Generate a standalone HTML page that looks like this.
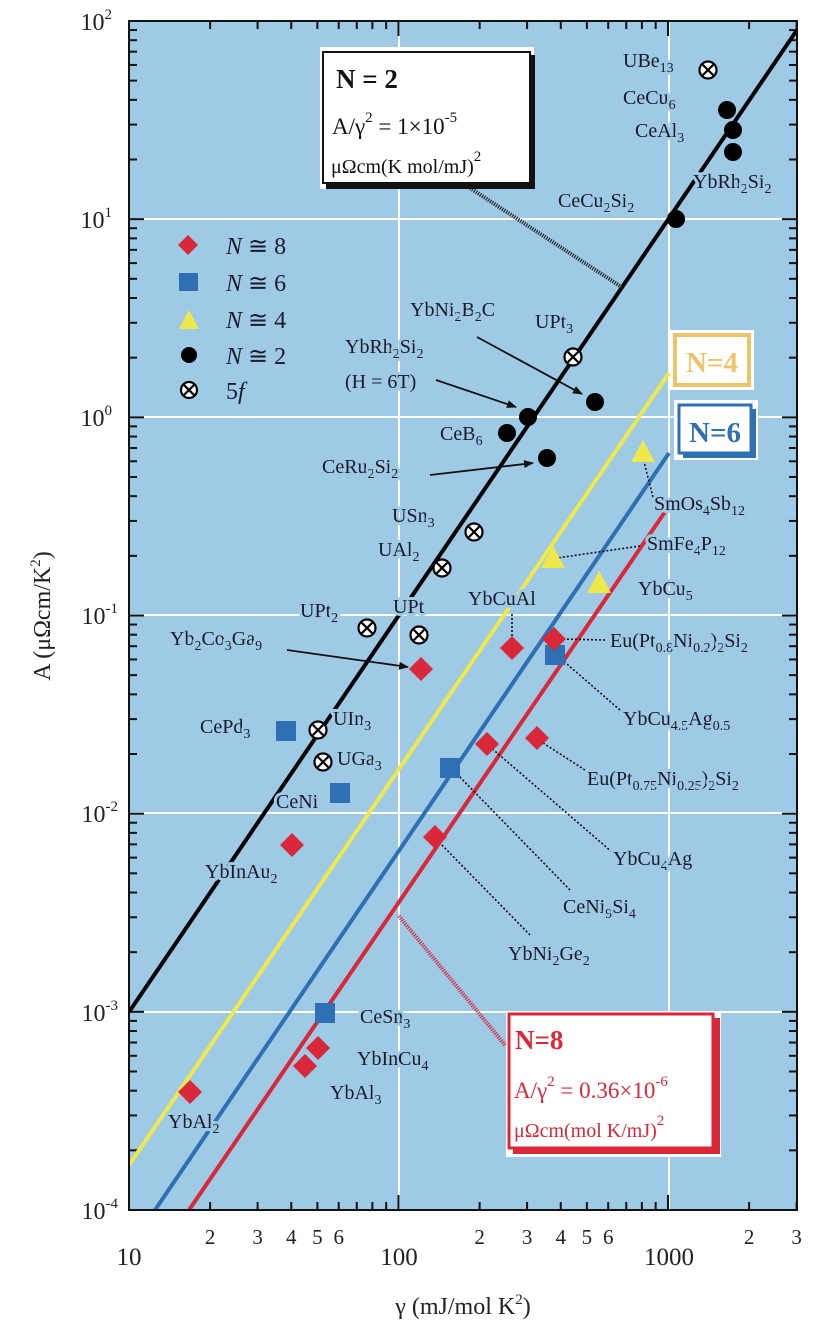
<!DOCTYPE html>
<html><head><meta charset="utf-8"><style>
html,body{margin:0;padding:0;background:#fff;}
svg{display:block;font-family:"Liberation Serif",serif;}
.l{font-size:20px;fill:#1a1a2a;paint-order:stroke;stroke:#9fcae6;stroke-width:6px;stroke-linejoin:round;}
.s{font-size:14px;}
.d{stroke:#111;stroke-width:1.6;stroke-dasharray:2,2;fill:none;}
</style></head><body>
<svg width="836" height="1332" viewBox="0 0 836 1332" xmlns="http://www.w3.org/2000/svg">
<defs>
<marker id="ar" markerWidth="10" markerHeight="8" refX="9" refY="4" orient="auto" markerUnits="userSpaceOnUse"><path d="M0,0 L10,4 L0,8 z" fill="#111"/></marker>
<clipPath id="cp"><rect x="129" y="21" width="668" height="1189"/></clipPath>
</defs>
<rect x="129" y="21" width="668" height="1189" fill="#9fcae6"/>
<g stroke="#fff" stroke-width="2">
<line x1="399" y1="21" x2="399" y2="1210"/><line x1="669" y1="21" x2="669" y2="1210"/>
<line x1="129" y1="219" x2="797" y2="219"/><line x1="129" y1="417" x2="797" y2="417"/>
<line x1="129" y1="615" x2="797" y2="615"/><line x1="129" y1="813" x2="797" y2="813"/>
<line x1="129" y1="1012" x2="797" y2="1012"/>
</g>
<g id="ticks" stroke="#111" stroke-width="2"></g>
<g clip-path="url(#cp)" stroke-width="4" stroke-linecap="butt">
<line x1="129" y1="1165" x2="669" y2="373" stroke="#eee84a"/>
<line x1="155" y1="1210" x2="669" y2="453" stroke="#2f6fb3"/>
<line x1="189" y1="1210" x2="669" y2="506" stroke="#d8283a"/>
<line x1="129" y1="1012" x2="797" y2="30" stroke="#000"/>
</g>
<line x1="470" y1="188" x2="623" y2="288" stroke="#222" stroke-width="4" stroke-dasharray="1.2,1.2"/>
<line x1="505" y1="1045" x2="398" y2="915" stroke="#d8283a" stroke-width="4" stroke-dasharray="1.2,1.2"/>
<path class="d" d="M653,497 L643,458 M640,546 L557,558 M605,640 L560,639 M620,710 L560,658 M585,770 L540,741 M612,852 L489,746 M570,890 L455,772 M530,935 L437,840 M512,614 L512,645"/>
<g stroke="#111" stroke-width="1.8" marker-end="url(#ar)">
<line x1="477" y1="337" x2="582" y2="394"/>
<line x1="436" y1="380" x2="516" y2="407"/>
<line x1="430" y1="475" x2="533" y2="463"/>
<line x1="287" y1="650" x2="408" y2="667"/>
</g>
<g class="l">
<text x="623" y="67">UBe<tspan class="s" dy="5">13</tspan></text>
<text x="623" y="104">CeCu<tspan class="s" dy="5">6</tspan></text>
<text x="635" y="137">CeAl<tspan class="s" dy="5">3</tspan></text>
<text x="693" y="188">YbRh<tspan class="s" dy="5">2</tspan><tspan dy="-5">Si</tspan><tspan class="s" dy="5">2</tspan></text>
<text x="558" y="207">CeCu<tspan class="s" dy="5">2</tspan><tspan dy="-5">Si</tspan><tspan class="s" dy="5">2</tspan></text>
<text x="410" y="316">YbNi<tspan class="s" dy="5">2</tspan><tspan dy="-5">B</tspan><tspan class="s" dy="5">2</tspan><tspan dy="-5">C</tspan></text>
<text x="535" y="328">UPt<tspan class="s" dy="5">3</tspan></text>
<text x="345" y="353">YbRh<tspan class="s" dy="5">2</tspan><tspan dy="-5">Si</tspan><tspan class="s" dy="5">2</tspan></text>
<text x="345" y="388">(H = 6T)</text>
<text x="440" y="440">CeB<tspan class="s" dy="5">6</tspan></text>
<text x="322" y="473">CeRu<tspan class="s" dy="5">2</tspan><tspan dy="-5">Si</tspan><tspan class="s" dy="5">2</tspan></text>
<text x="392" y="522">USn<tspan class="s" dy="5">3</tspan></text>
<text x="378" y="556">UAl<tspan class="s" dy="5">2</tspan></text>
<text x="468" y="605">YbCuAl</text>
<text x="300" y="617">UPt<tspan class="s" dy="5">2</tspan></text>
<text x="393" y="613">UPt</text>
<text x="170" y="645">Yb<tspan class="s" dy="5">2</tspan><tspan dy="-5">Co</tspan><tspan class="s" dy="5">3</tspan><tspan dy="-5">Ga</tspan><tspan class="s" dy="5">9</tspan></text>
<text x="654" y="510">SmOs<tspan class="s" dy="5">4</tspan><tspan dy="-5">Sb</tspan><tspan class="s" dy="5">12</tspan></text>
<text x="647" y="550">SmFe<tspan class="s" dy="5">4</tspan><tspan dy="-5">P</tspan><tspan class="s" dy="5">12</tspan></text>
<text x="638" y="595">YbCu<tspan class="s" dy="5">5</tspan></text>
<text x="610" y="647">Eu(Pt<tspan class="s" dy="5">0.8</tspan><tspan dy="-5">Ni</tspan><tspan class="s" dy="5">0.2</tspan><tspan dy="-5">)</tspan><tspan class="s" dy="5">2</tspan><tspan dy="-5">Si</tspan><tspan class="s" dy="5">2</tspan></text>
<text x="623" y="725">YbCu<tspan class="s" dy="5">4.5</tspan><tspan dy="-5">Ag</tspan><tspan class="s" dy="5">0.5</tspan></text>
<text x="587" y="785">Eu(Pt<tspan class="s" dy="5">0.75</tspan><tspan dy="-5">Ni</tspan><tspan class="s" dy="5">0.25</tspan><tspan dy="-5">)</tspan><tspan class="s" dy="5">2</tspan><tspan dy="-5">Si</tspan><tspan class="s" dy="5">2</tspan></text>
<text x="613" y="865">YbCu<tspan class="s" dy="5">4</tspan><tspan dy="-5">Ag</tspan></text>
<text x="563" y="913">CeNi<tspan class="s" dy="5">9</tspan><tspan dy="-5">Si</tspan><tspan class="s" dy="5">4</tspan></text>
<text x="508" y="960">YbNi<tspan class="s" dy="5">2</tspan><tspan dy="-5">Ge</tspan><tspan class="s" dy="5">2</tspan></text>
<text x="333" y="725">UIn<tspan class="s" dy="5">3</tspan></text>
<text x="200" y="733">CePd<tspan class="s" dy="5">3</tspan></text>
<text x="337" y="765">UGa<tspan class="s" dy="5">3</tspan></text>
<text x="276" y="808">CeNi</text>
<text x="205" y="878">YbInAu<tspan class="s" dy="5">2</tspan></text>
<text x="360" y="1023">CeSn<tspan class="s" dy="5">3</tspan></text>
<text x="357" y="1065">YbInCu<tspan class="s" dy="5">4</tspan></text>
<text x="330" y="1099">YbAl<tspan class="s" dy="5">3</tspan></text>
<text x="168" y="1128">YbAl<tspan class="s" dy="5">2</tspan></text>
</g>
<g fill="#000">
<circle cx="727" cy="110" r="9"/><circle cx="733" cy="130" r="9"/><circle cx="733" cy="152" r="9"/>
<circle cx="676" cy="219" r="9"/><circle cx="595" cy="402" r="9"/><circle cx="528" cy="417" r="9"/>
<circle cx="507" cy="433" r="9"/><circle cx="547" cy="458" r="9"/>
</g>
<g id="ox"></g>
<g fill="#d8283a">
<path d="M0,-12 L12,0 L0,12 L-12,0z" transform="translate(421,669)"/>
</g>
<g id="dms" fill="#d8283a"></g>
<g fill="#2f6fb3">
<rect x="276" y="721" width="20" height="20"/><rect x="330" y="783" width="20" height="20"/>
<rect x="440" y="758" width="20" height="20"/><rect x="315" y="1003" width="20" height="20"/>
<rect x="545" y="645" width="20" height="20"/>
</g>
<g fill="#d8283a"><path d="M554,627 L566,639 L554,651 L542,639z"/></g>
<g fill="#eee84a">
<path d="M643,440 L655,462 L631,462z"/><path d="M553,546 L565,568 L541,568z"/><path d="M599,571 L611,593 L587,593z"/>
</g>
<path d="M188,235 L198,245 L188,255 L178,245z" fill="#d8283a"/>
<rect x="179" y="273" width="19" height="18" fill="#2f6fb3"/>
<path d="M189,310 L199,329 L179,329z" fill="#eee84a"/>
<circle cx="189" cy="355" r="8" fill="#000"/>
<g id="lgox"></g>
<g font-size="24" fill="#1a1a2a">
<text x="226" y="254"><tspan font-style="italic">N</tspan> ≅ 8</text>
<text x="226" y="291"><tspan font-style="italic">N</tspan> ≅ 6</text>
<text x="226" y="328"><tspan font-style="italic">N</tspan> ≅ 4</text>
<text x="226" y="364"><tspan font-style="italic">N</tspan> ≅ 2</text>
<text x="226" y="399">5<tspan font-style="italic">f</tspan></text>
</g>
<rect x="320" y="47" width="214" height="142" fill="#fff"/>
<rect x="326" y="55" width="209" height="134" fill="#111"/>
<rect x="323" y="52" width="207" height="131" fill="#fff" stroke="#111" stroke-width="2"/>
<text x="336" y="88" font-size="27" font-weight="bold" fill="#111">N = 2</text>
<text x="332" y="134" font-size="23" fill="#111">A/γ<tspan font-size="15" dy="-12">2</tspan><tspan dy="12"> = 1×10</tspan><tspan font-size="15" dy="-12">-5</tspan></text>
<text x="331" y="173" font-size="20" fill="#111">μΩcm(K mol/mJ)<tspan font-size="15" dy="-12">2</tspan></text>

<rect x="670" y="330" width="84" height="60" fill="#fff"/>
<rect x="675" y="335" width="74" height="50" fill="#fff" stroke="#eec46a" stroke-width="4"/>
<text x="712" y="372" font-size="29" font-weight="bold" fill="#eec46a" text-anchor="middle">N=4</text>

<rect x="674" y="400" width="84" height="60" fill="#fff"/>
<rect x="683" y="409" width="73" height="49" fill="#2f6fb3"/>
<rect x="679" y="405" width="72" height="48" fill="#fff" stroke="#2f6fb3" stroke-width="3"/>
<text x="715" y="442" font-size="29" font-weight="bold" fill="#2f6fb3" text-anchor="middle">N=6</text>

<rect x="506" y="1011" width="215" height="146" fill="#fff"/>
<rect x="513" y="1018" width="207" height="136" fill="#d8283a"/>
<rect x="509" y="1014" width="204" height="134" fill="#fff" stroke="#d8283a" stroke-width="3"/>
<text x="515" y="1049" font-size="27" font-weight="bold" fill="#d8283a">N=8</text>
<text x="514" y="1098" font-size="23" fill="#d8283a">A/γ<tspan font-size="15" dy="-12">2</tspan><tspan dy="12"> = 0.36×10</tspan><tspan font-size="15" dy="-12">-6</tspan></text>
<text x="514" y="1137" font-size="20" fill="#d8283a">μΩcm(mol K/mJ)<tspan font-size="15" dy="-12">2</tspan></text>

<rect x="129" y="21" width="668" height="1189" fill="none" stroke="#111" stroke-width="2"/>
<g font-size="24" fill="#222" text-anchor="end">
<text x="112" y="30">10<tspan font-size="15" dy="-11">2</tspan></text>
<text x="112" y="228">10<tspan font-size="15" dy="-11">1</tspan></text>
<text x="112" y="426">10<tspan font-size="15" dy="-11">0</tspan></text>
<text x="118" y="624">10<tspan font-size="15" dy="-11">-1</tspan></text>
<text x="118" y="822">10<tspan font-size="15" dy="-11">-2</tspan></text>
<text x="118" y="1021">10<tspan font-size="15" dy="-11">-3</tspan></text>
<text x="118" y="1219">10<tspan font-size="15" dy="-11">-4</tspan></text>
</g>
<g font-size="25" fill="#222" text-anchor="middle">
<text x="129" y="1265">10</text><text x="399" y="1265">100</text><text x="669" y="1265">1000</text>
</g>
<g id="xl" font-size="21" fill="#222" text-anchor="middle"></g>
<text transform="translate(50,616) rotate(-90)" font-size="24" fill="#222" text-anchor="middle">A (μΩcm/K<tspan font-size="15" dy="-10">2</tspan><tspan dy="10">)</tspan></text>
<text x="463" y="1314" font-size="24" fill="#222" text-anchor="middle">γ  (mJ/mol K<tspan font-size="15" dy="-10">2</tspan><tspan dy="10">)</tspan></text>
<script>
var ns="http://www.w3.org/2000/svg";
function el(p,t,a){var e=document.createElementNS(ns,t);for(var k in a)e.setAttribute(k,a[k]);p.appendChild(e);return e;}
var tk=document.getElementById('ticks');
var L=129,R=797,T=21,B=1210,DX=269.5,DY=198.17;
for(var d=0;d<3;d++){for(var m=1;m<10;m++){var x=L+DX*(d+Math.log10(m));if(x>R+1)break;var len=m==1?15:8;
 el(tk,'line',{x1:x,y1:B,x2:x,y2:B-len});el(tk,'line',{x1:x,y1:T,x2:x,y2:T+len});
 if(m>1&&(m<=6||d==2)){var t=el(document.getElementById('xl'),'text',{x:x,y:1244});t.textContent=m;}}}
for(var d=0;d<6;d++){for(var m=1;m<10;m++){var y=B-DY*(d+Math.log10(m));var len=m==1?15:8;
 el(tk,'line',{x1:L,y1:y,x2:L+len,y2:y});el(tk,'line',{x1:R,y1:y,x2:R-len,y2:y});}}
el(tk,'line',{x1:L,y1:T,x2:L+15,y2:T});el(tk,'line',{x1:R,y1:T,x2:R-15,y2:T});
function ox(g,x,y,r){el(g,'circle',{cx:x,cy:y,r:r,fill:'#fff',stroke:'#000','stroke-width':2.2});
 var k=r*0.62;el(g,'path',{d:'M'+(x-k)+','+(y-k)+'L'+(x+k)+','+(y+k)+'M'+(x-k)+','+(y+k)+'L'+(x+k)+','+(y-k),stroke:'#000','stroke-width':2.2});}
var og=document.getElementById('ox');
[[708,70],[573,357],[474,532],[442,568],[367,628],[419,635],[318,730],[323,762]].forEach(function(p){ox(og,p[0],p[1],8.5);});
ox(document.getElementById('lgox'),189,390,8);
var dg=document.getElementById('dms');
[[512,648],[537,738],[487,744],[435,837],[292,845],[318,1048],[305,1066],[190,1092]].forEach(function(p){
 el(dg,'path',{d:'M'+p[0]+','+(p[1]-12)+'L'+(p[0]+12)+','+p[1]+'L'+p[0]+','+(p[1]+12)+'L'+(p[0]-12)+','+p[1]+'z'});});
</script>
</svg>
</body></html>
